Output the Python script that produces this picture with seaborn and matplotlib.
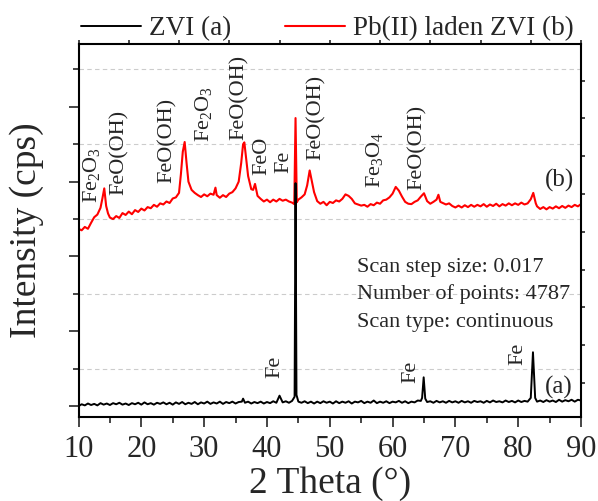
import numpy as np
import pandas as pd
import seaborn as sns
from matplotlib import pyplot as plt

# XRD patterns (2 theta in degrees, intensity in arbitrary offset units)
two_theta_a = [10.0, 10.5, 11.0, 11.5, 12.0, 12.5, 13.0, 13.5, 14.0, 14.5, 15.0, 15.5, 16.0, 16.5,
               17.0, 17.5, 18.0, 18.5, 19.0, 19.5, 20.0, 20.5, 21.0, 21.5, 22.0, 22.5, 23.0, 23.5,
               24.0, 24.5, 25.0, 25.5, 26.0, 26.5, 27.0, 27.5, 28.0, 28.5, 29.0, 29.5, 30.0, 30.5,
               31.0, 31.5, 32.0, 32.5, 33.0, 33.5, 34.0, 34.5, 35.0, 35.5, 36.0, 36.2, 36.5, 37.0,
               37.5, 38.0, 38.5, 39.0, 39.5, 40.0, 40.5, 41.0, 41.5, 42.0, 42.5, 43.0, 43.5, 44.0,
               44.4, 44.55, 44.7, 45.0, 45.5, 46.0, 46.5, 47.0, 47.5, 48.0, 48.5, 49.0, 49.5, 50.0,
               50.5, 51.0, 51.5, 52.0, 52.5, 53.0, 53.5, 54.0, 54.5, 55.0, 55.5, 56.0, 56.5, 57.0,
               57.5, 58.0, 58.5, 59.0, 59.5, 60.0, 60.5, 61.0, 61.5, 62.0, 62.5, 63.0, 63.5, 64.0,
               64.5, 64.7, 64.95, 65.2, 65.5, 66.0, 66.5, 67.0, 67.5, 68.0, 68.5, 69.0, 69.5, 70.0,
               70.5, 71.0, 71.5, 72.0, 72.5, 73.0, 73.5, 74.0, 74.5, 75.0, 75.5, 76.0, 76.5, 77.0,
               77.5, 78.0, 78.5, 79.0, 79.5, 80.0, 80.5, 81.0, 81.5, 82.0, 82.35, 82.7, 83.0, 83.5,
               84.0, 84.5, 85.0, 85.5, 86.0, 86.5, 87.0, 87.5, 88.0, 88.5, 89.0, 89.5, 90.0]
counts_a = [0.00, 0.05, 0.02, 0.07, 0.03, 0.06, 0.02, 0.08, 0.04, 0.07, 0.03, 0.08, 0.05, 0.09,
            0.04, 0.07, 0.03, 0.08, 0.05, 0.09, 0.04, 0.10, 0.05, 0.08, 0.04, 0.09, 0.06, 0.10,
            0.05, 0.09, 0.04, 0.10, 0.06, 0.11, 0.05, 0.09, 0.06, 0.11, 0.05, 0.10, 0.07, 0.12,
            0.06, 0.10, 0.07, 0.12, 0.06, 0.11, 0.08, 0.12, 0.07, 0.11, 0.12, 0.20, 0.09, 0.12,
            0.07, 0.11, 0.08, 0.12, 0.07, 0.11, 0.08, 0.13, 0.09, 0.28, 0.10, 0.13, 0.09, 0.14,
            0.25, 5.96, 0.30, 0.12, 0.09, 0.13, 0.08, 0.12, 0.07, 0.12, 0.08, 0.13, 0.09, 0.12,
            0.07, 0.13, 0.08, 0.12, 0.09, 0.13, 0.07, 0.12, 0.10, 0.14, 0.08, 0.12, 0.09, 0.15,
            0.08, 0.12, 0.09, 0.13, 0.08, 0.12, 0.10, 0.14, 0.09, 0.13, 0.08, 0.12, 0.10, 0.15,
            0.14, 0.22, 0.77, 0.20, 0.11, 0.13, 0.09, 0.14, 0.10, 0.13, 0.09, 0.14, 0.10, 0.13,
            0.09, 0.14, 0.10, 0.13, 0.09, 0.14, 0.11, 0.13, 0.09, 0.14, 0.10, 0.15, 0.11, 0.13,
            0.10, 0.15, 0.11, 0.14, 0.10, 0.15, 0.11, 0.14, 0.12, 0.22, 1.44, 0.22, 0.12, 0.15,
            0.11, 0.16, 0.12, 0.15, 0.11, 0.17, 0.12, 0.16, 0.13, 0.17, 0.12, 0.17, 0.15]

two_theta_b = [10.0, 10.5, 11.0, 11.5, 12.0, 12.5, 13.0, 13.5, 13.8, 14.1, 14.4, 14.7, 15.0, 15.5,
               16.0, 16.5, 17.0, 17.5, 18.0, 18.5, 19.0, 19.5, 20.0, 20.5, 21.0, 21.5, 22.0, 22.5,
               23.0, 23.5, 24.0, 24.5, 25.0, 25.5, 26.0, 26.3, 26.6, 26.9, 27.2, 27.5, 28.0, 28.5,
               29.0, 29.5, 30.0, 30.5, 31.0, 31.5, 31.8, 32.0, 32.5, 33.0, 33.5, 34.0, 34.5, 35.0,
               35.5, 35.9, 36.2, 36.4, 36.7, 37.0, 37.5, 37.8, 38.1, 38.5, 39.0, 39.5, 40.0, 40.5,
               41.0, 41.5, 42.0, 42.5, 43.0, 43.5, 44.0, 44.35, 44.55, 44.75, 45.0, 45.5, 46.0, 46.4,
               46.8, 47.1, 47.5, 48.0, 48.5, 49.0, 49.5, 50.0, 50.5, 51.0, 51.5, 52.0, 52.5, 53.0,
               53.5, 54.0, 54.5, 55.0, 55.5, 56.0, 56.5, 57.0, 57.5, 58.0, 58.5, 59.0, 59.5, 60.0,
               60.5, 61.0, 61.5, 62.0, 62.5, 63.0, 63.5, 64.0, 64.5, 65.0, 65.5, 66.0, 66.5, 67.0,
               67.3, 67.6, 68.0, 68.5, 69.0, 69.5, 70.0, 70.5, 71.0, 71.5, 72.0, 72.5, 73.0, 73.5,
               74.0, 74.5, 75.0, 75.5, 76.0, 76.5, 77.0, 77.5, 78.0, 78.5, 79.0, 79.5, 80.0, 80.5,
               81.0, 81.5, 82.0, 82.4, 82.8, 83.0, 83.5, 84.0, 84.5, 85.0, 85.5, 86.0, 86.5, 87.0,
               87.5, 88.0, 88.5, 89.0, 89.5, 90.0]
counts_b = [4.74, 4.70, 4.79, 4.74, 4.90, 5.05, 5.12, 5.30, 5.55, 5.82, 5.35, 5.15, 5.04, 5.00,
            5.08, 5.03, 5.16, 5.11, 5.20, 5.13, 5.24, 5.19, 5.28, 5.23, 5.32, 5.29, 5.38, 5.33,
            5.42, 5.39, 5.47, 5.43, 5.55, 5.58, 5.70, 6.20, 6.80, 7.06, 6.50, 6.00, 5.78, 5.70,
            5.64, 5.59, 5.66, 5.61, 5.68, 5.65, 5.84, 5.64, 5.57, 5.64, 5.59, 5.68, 5.72, 5.82,
            6.00, 6.50, 7.00, 7.05, 6.60, 6.15, 5.80, 5.78, 5.94, 5.62, 5.54, 5.47, 5.52, 5.45,
            5.52, 5.47, 5.54, 5.49, 5.52, 5.47, 5.44, 5.40, 7.70, 5.45, 5.52, 5.58, 5.66, 5.90,
            6.30, 6.05, 5.72, 5.48, 5.41, 5.46, 5.37, 5.46, 5.43, 5.50, 5.47, 5.54, 5.66, 5.62,
            5.54, 5.42, 5.39, 5.36, 5.38, 5.33, 5.40, 5.37, 5.44, 5.41, 5.50, 5.52, 5.58, 5.68,
            5.86, 5.76, 5.60, 5.46, 5.41, 5.40, 5.46, 5.50, 5.60, 5.69, 5.48, 5.41, 5.46, 5.52,
            5.65, 5.46, 5.43, 5.39, 5.42, 5.35, 5.31, 5.36, 5.31, 5.37, 5.32, 5.38, 5.33, 5.38,
            5.34, 5.40, 5.33, 5.39, 5.35, 5.41, 5.34, 5.40, 5.36, 5.42, 5.37, 5.42, 5.38, 5.44,
            5.39, 5.42, 5.53, 5.70, 5.42, 5.34, 5.27, 5.32, 5.26, 5.32, 5.28, 5.34, 5.29, 5.35,
            5.30, 5.36, 5.32, 5.38, 5.34, 5.40]

series_labels = ["ZVI (a)", "Pb(II) laden ZVI (b)"]
series_colors = ["black", "red"]
scan_info = ["Scan step size: 0.017", "Number of points: 4787", "Scan type: continuous"]

sns.set_theme(style="ticks")
plt.rcParams["font.family"] = ["Liberation Serif", "DejaVu Serif"]
plt.rcParams["mathtext.fontset"] = "custom"
plt.rcParams["mathtext.rm"] = "Liberation Serif"
plt.rcParams["mathtext.it"] = "Liberation Serif:italic"

df_a = pd.DataFrame({"two_theta": two_theta_a, "intensity": counts_a})
df_b = pd.DataFrame({"two_theta": two_theta_b, "intensity": counts_b})

fig = plt.figure(figsize=(5.98, 5.01), dpi=100)
ax = fig.add_axes([0.1313, 0.1677, 0.8403, 0.7445])

sns.lineplot(data=df_a, x="two_theta", y="intensity", color=series_colors[0], lw=1.4,
             estimator=None, sort=False, ax=ax, label=series_labels[0], zorder=3)
sns.lineplot(data=df_b, x="two_theta", y="intensity", color=series_colors[1], lw=1.5,
             estimator=None, sort=False, ax=ax, label=series_labels[1], zorder=2)

ax.set_xlim(10, 90)
ax.set_ylim(-0.29, 9.68)
ax.set_xticks(np.arange(10, 91, 10))
ax.set_xticks(np.arange(15, 90, 10), minor=True)
ax.set_yticks([0, 2, 4, 6, 8])
ax.set_yticks([1, 3, 5, 7, 9], minor=True)
ax.set_yticklabels([])
ax.yaxis.grid(True, which="minor", ls=(0, (4, 3)), color="#cccccc", lw=0.8)
ax.xaxis.grid(False)
ax.tick_params(axis="x", which="major", labelsize=22, length=7, width=1.2, direction="out", pad=6)
ax.tick_params(axis="x", which="minor", length=4, width=1.2, direction="out")
ax.tick_params(axis="y", which="major", length=7, width=1.2, direction="out")
ax.tick_params(axis="y", which="minor", length=4, width=1.2, direction="out")
for s in ax.spines.values():
    s.set_linewidth(1.5)
    s.set_visible(True)
    s.set_color("black")

top = ax.secondary_xaxis("top")
top.set_xticks(np.arange(10, 91, 8))
top.tick_params(length=3, width=1.2, direction="out", labeltop=False)
right = ax.secondary_yaxis("right")
right.set_yticks(np.arange(0.62, 9.0, 1.01))
right.tick_params(length=3, width=1.2, direction="out", labelright=False)

ax.set_xlabel("2 Theta (°)", fontsize=27, labelpad=2)
ax.set_ylabel("Intensity (cps)", fontsize=27, labelpad=14)

# phase labels over the peaks
peaks_b = [("Fe$_2$O$_3$", 12.1, 5.42), ("FeO(OH)", 16.5, 5.64), ("FeO(OH)", 24.05, 5.97),
           ("Fe$_2$O$_3$", 29.85, 7.07), ("FeO(OH)", 35.6, 7.11), ("FeO", 39.2, 6.17),
           ("Fe", 42.75, 6.22), ("FeO(OH)", 47.8, 6.59), ("Fe$_3$O$_4$", 57.1, 5.82),
           ("FeO(OH)", 64.0, 5.77)]
peaks_a = [("Fe", 41.2, 0.75), ("Fe", 62.96, 0.61), ("Fe", 80.0, 1.11)]
for txt, x, y in peaks_b + peaks_a:
    ax.text(x, y, txt, rotation=90, ha="center", va="bottom", fontsize=16)

ax.text(86.6, 6.04, "(b)", ha="center", va="center", fontsize=18)
ax.text(86.5, 0.51, "(a)", ha="center", va="center", fontsize=18)
for txt, y in zip(scan_info, [3.59, 2.86, 2.11]):
    ax.text(54.4, y, txt, ha="left", va="baseline", fontsize=16)

ax.legend(loc="lower left", bbox_to_anchor=(0.0, 1.0), ncol=2, frameon=False, fontsize=19.5,
          borderaxespad=0.1, borderpad=0.0, handlelength=2.2, handletextpad=0.3,
          columnspacing=2.0)

fig.savefig("out.png", dpi=100)
